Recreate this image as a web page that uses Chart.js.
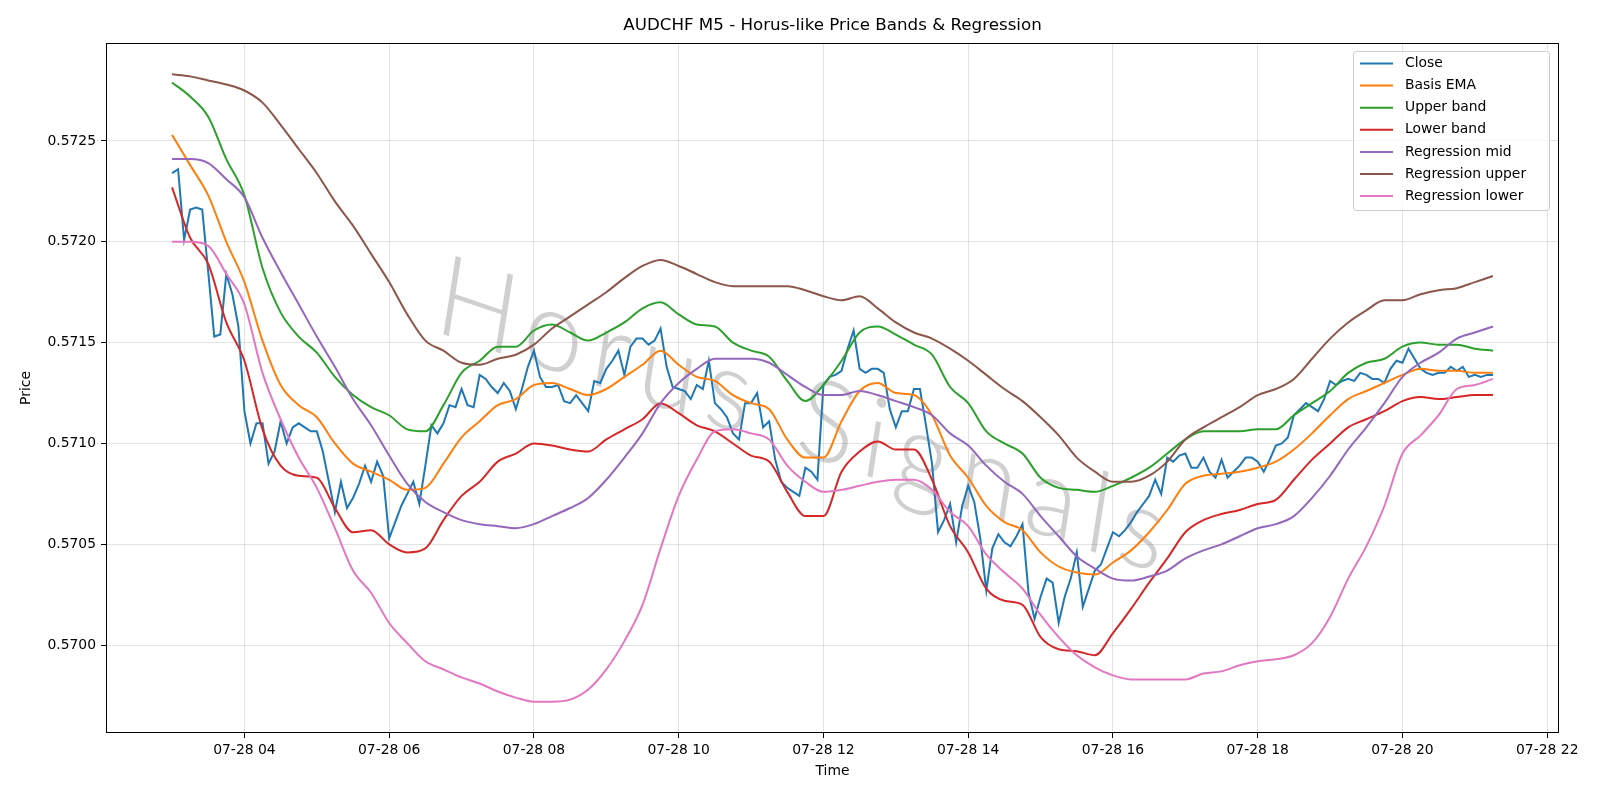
<!DOCTYPE html>
<html>
<head>
<meta charset="utf-8">
<script src="https://cdn.jsdelivr.net/npm/chart.js@4.4.1/dist/chart.umd.min.js"></script>
<style>
  html, body { margin: 0; padding: 0; background: #fff; }
  #wrap { width: 1600px; height: 800px; }
</style>
</head>
<body>
<div id="wrap"><canvas id="priceChart" width="1600" height="800"></canvas></div>
<script>
// 5-minute closes, 07-28 03:00 .. 21:15
const closeVals = [
  0.57234, 0.57236, 0.57201, 0.57216, 0.57217, 0.57216, 0.57185, 0.57153, 0.57154, 0.57184,
  0.57174, 0.57158, 0.57116, 0.57100, 0.57110, 0.57110, 0.57090, 0.57096, 0.57111, 0.57100,
  0.57108, 0.57110, 0.57108, 0.57106, 0.57106, 0.57096, 0.57081, 0.57066, 0.57081, 0.57068,
  0.57073, 0.57080, 0.57089, 0.57081, 0.57091, 0.57084, 0.57053, 0.57061, 0.57069, 0.57075,
  0.57081, 0.57070, 0.57089, 0.57109, 0.57105, 0.57110, 0.57119, 0.57118, 0.57127, 0.57119,
  0.57118, 0.57134, 0.57132, 0.57128, 0.57125, 0.57130, 0.57126, 0.57117, 0.57127, 0.57138,
  0.57146, 0.57133, 0.57128, 0.57128, 0.57129, 0.57121, 0.57120, 0.57124, 0.57120, 0.57116,
  0.57131, 0.57130, 0.57137, 0.57141, 0.57146, 0.57134, 0.57148, 0.57152, 0.57152, 0.57149,
  0.57151, 0.57157, 0.57138, 0.57128, 0.57127, 0.57126, 0.57122, 0.57129, 0.57127, 0.57141,
  0.57120, 0.57117, 0.57113, 0.57105, 0.57102, 0.57120, 0.57120, 0.57125, 0.57108, 0.57111,
  0.57092, 0.57081, 0.57078, 0.57076, 0.57074, 0.57088, 0.57086, 0.57082, 0.57129, 0.57133,
  0.57134, 0.57136, 0.57147, 0.57156, 0.57137, 0.57135, 0.57137, 0.57137, 0.57135, 0.57117,
  0.57108, 0.57116, 0.57116, 0.57127, 0.57127, 0.57109, 0.57090, 0.57056, 0.57062, 0.57070,
  0.57051, 0.57069, 0.57079, 0.57071, 0.57053, 0.57027, 0.57048, 0.57055, 0.57051, 0.57049,
  0.57054, 0.57060, 0.57026, 0.57013, 0.57024, 0.57033, 0.57031, 0.57011, 0.57024, 0.57033,
  0.57046, 0.57019, 0.57028, 0.57037, 0.57040, 0.57048, 0.57056, 0.57054, 0.57057, 0.57061,
  0.57066, 0.57070, 0.57074, 0.57082, 0.57075, 0.57093, 0.57091, 0.57094, 0.57095, 0.57088,
  0.57088, 0.57093, 0.57086, 0.57083, 0.57092, 0.57083, 0.57086, 0.57089, 0.57093, 0.57093,
  0.57091, 0.57086, 0.57092, 0.57099, 0.57100, 0.57103, 0.57114, 0.57117, 0.57120, 0.57118,
  0.57116, 0.57122, 0.57131, 0.57129, 0.57131, 0.57132, 0.57131, 0.57135, 0.57134, 0.57132,
  0.57132, 0.57130, 0.57137, 0.57141, 0.57140, 0.57147, 0.57142, 0.57137, 0.57135, 0.57134,
  0.57135, 0.57135, 0.57138, 0.57136, 0.57138, 0.57133, 0.57134, 0.57133, 0.57134, 0.57134
];

// band / regression lines, read every 15 minutes, 03:00 .. 21:15
const basisEma = [
  0.57253, 0.57238, 0.57223, 0.57200, 0.57180, 0.57151, 0.57129, 0.57119, 0.57113, 0.57100,
  0.57090, 0.57086, 0.57082, 0.57077, 0.57078, 0.57090, 0.57103, 0.57111, 0.57119, 0.57122,
  0.57129, 0.57130, 0.57127, 0.57124, 0.57127, 0.57133, 0.57139, 0.57146, 0.57139, 0.57133,
  0.57131, 0.57124, 0.57120, 0.57117, 0.57102, 0.57093, 0.57093, 0.57111, 0.57126, 0.57130,
  0.57125, 0.57124, 0.57114, 0.57094, 0.57083, 0.57069, 0.57061, 0.57057, 0.57046, 0.57039,
  0.57036, 0.57035, 0.57041, 0.57047, 0.57056, 0.57067, 0.57080, 0.57084, 0.57085, 0.57086,
  0.57088, 0.57091, 0.57097, 0.57105, 0.57114, 0.57122, 0.57126, 0.57130, 0.57134, 0.57137,
  0.57136, 0.57136, 0.57135, 0.57135
];
const upperBand = [
  0.57279, 0.57272, 0.57262, 0.57241, 0.57223, 0.57187, 0.57165, 0.57153, 0.57145, 0.57133,
  0.57124, 0.57118, 0.57114, 0.57107, 0.57106, 0.57119, 0.57135, 0.57141, 0.57148, 0.57148,
  0.57156, 0.57159, 0.57155, 0.57151, 0.57155, 0.57160, 0.57167, 0.57170, 0.57164, 0.57159,
  0.57158, 0.57150, 0.57146, 0.57143, 0.57131, 0.57121, 0.57129, 0.57141, 0.57155, 0.57158,
  0.57154, 0.57149, 0.57144, 0.57128, 0.57120, 0.57106, 0.57100, 0.57095, 0.57083, 0.57078,
  0.57077, 0.57076, 0.57079, 0.57083, 0.57088, 0.57095, 0.57102, 0.57106, 0.57106, 0.57106,
  0.57107, 0.57107, 0.57114, 0.57120, 0.57126, 0.57135, 0.57140, 0.57142, 0.57148, 0.57150,
  0.57149, 0.57149, 0.57147, 0.57146
];
const lowerBand = [
  0.57227, 0.57202, 0.57189, 0.57160, 0.57141, 0.57107, 0.57089, 0.57084, 0.57083, 0.57068,
  0.57056, 0.57057, 0.57050, 0.57046, 0.57048, 0.57062, 0.57074, 0.57081, 0.57091, 0.57095,
  0.57100, 0.57099, 0.57097, 0.57096, 0.57102, 0.57107, 0.57112, 0.57120, 0.57115, 0.57109,
  0.57106, 0.57100, 0.57094, 0.57091, 0.57076, 0.57064, 0.57064, 0.57086, 0.57096, 0.57101,
  0.57097, 0.57097, 0.57082, 0.57059, 0.57046, 0.57028, 0.57022, 0.57020, 0.57004, 0.56998,
  0.56997, 0.56995, 0.57006, 0.57018, 0.57031, 0.57043, 0.57056, 0.57062, 0.57065, 0.57067,
  0.57070, 0.57072, 0.57082, 0.57092, 0.57100, 0.57108, 0.57112, 0.57116, 0.57121, 0.57123,
  0.57122, 0.57123, 0.57124, 0.57124
];
const regMid = [
  0.57241, 0.57241, 0.57239, 0.57231, 0.57222, 0.57202, 0.57185, 0.57169, 0.57153, 0.57138,
  0.57122, 0.57109, 0.57094, 0.57080, 0.57071, 0.57066, 0.57062, 0.57060, 0.57059, 0.57058,
  0.57060, 0.57064, 0.57068, 0.57073, 0.57082, 0.57093, 0.57105, 0.57120, 0.57130, 0.57137,
  0.57142, 0.57142, 0.57142, 0.57140, 0.57134, 0.57128, 0.57124, 0.57124, 0.57126, 0.57124,
  0.57121, 0.57118, 0.57114, 0.57105, 0.57099, 0.57089, 0.57081, 0.57075, 0.57064, 0.57054,
  0.57044, 0.57038, 0.57033, 0.57032, 0.57034, 0.57037, 0.57043, 0.57047, 0.57050, 0.57054,
  0.57058, 0.57060, 0.57064, 0.57073, 0.57084, 0.57097, 0.57108, 0.57120, 0.57133, 0.57140,
  0.57145, 0.57152, 0.57155, 0.57158
];
const regUpper = [
  0.57283, 0.57282, 0.57280, 0.57278, 0.57275, 0.57269, 0.57258, 0.57246, 0.57234, 0.57220,
  0.57208, 0.57194, 0.57180, 0.57164, 0.57151, 0.57146, 0.57140, 0.57139, 0.57142, 0.57144,
  0.57149, 0.57157, 0.57163, 0.57169, 0.57175, 0.57182, 0.57188, 0.57191, 0.57188, 0.57184,
  0.57180, 0.57178, 0.57178, 0.57178, 0.57178, 0.57176, 0.57173, 0.57171, 0.57173, 0.57167,
  0.57160, 0.57155, 0.57152, 0.57147, 0.57141, 0.57134, 0.57127, 0.57121, 0.57113, 0.57104,
  0.57093, 0.57086, 0.57081, 0.57081, 0.57084, 0.57091, 0.57102, 0.57108, 0.57113, 0.57118,
  0.57124, 0.57127, 0.57132, 0.57142, 0.57152, 0.57160, 0.57166, 0.57171, 0.57171, 0.57174,
  0.57176, 0.57177, 0.57180, 0.57183
];
const regLower = [
  0.57200, 0.57200, 0.57198, 0.57184, 0.57169, 0.57135, 0.57112, 0.57093, 0.57078, 0.57058,
  0.57037, 0.57026, 0.57011, 0.57001, 0.56992, 0.56988, 0.56984, 0.56981, 0.56977, 0.56974,
  0.56972, 0.56972, 0.56973, 0.56978, 0.56988, 0.57002, 0.57020, 0.57048, 0.57074, 0.57092,
  0.57106, 0.57107, 0.57105, 0.57102, 0.57089, 0.57081, 0.57076, 0.57077, 0.57079, 0.57081,
  0.57082, 0.57082, 0.57077, 0.57066, 0.57059, 0.57045, 0.57036, 0.57028, 0.57015, 0.57004,
  0.56995, 0.56989, 0.56985, 0.56983, 0.56983, 0.56983, 0.56983, 0.56986, 0.56987, 0.56990,
  0.56992, 0.56993, 0.56995, 0.57001, 0.57014, 0.57033, 0.57049, 0.57069, 0.57095, 0.57104,
  0.57114, 0.57127, 0.57129, 0.57132
];

const seriesNames = ["Close", "Basis EMA", "Upper band", "Lower band",
  "Regression mid", "Regression upper", "Regression lower"];
const seriesColors = ["#1f77b4", "#ff7f0e", "#2ca02c", "#d62728",
  "#9467bd", "#8c564b", "#e377c2"];
const hourTicks = [4, 6, 8, 10, 12, 14, 16, 18, 20, 22];
const priceTicks = [0.5700, 0.5705, 0.5710, 0.5715, 0.5720, 0.5725];
const dayLabel = "07-28";
const chartTitle = "AUDCHF M5 - Horus-like Price Bands & Regression";
const watermarkText = "Horus Signals";

// time stamps in hours of the day
const startHour = 3;
const closeHours = closeVals.map((_, i) => startHour + i * 5 / 60);
const bandHours = basisEma.map((_, i) => startHour + i * 15 / 60);

function points(hours, vals) {
  return vals.map((v, i) => ({ x: hours[i], y: v }));
}

const lineSets = [
  [closeHours, closeVals], [bandHours, basisEma], [bandHours, upperBand], [bandHours, lowerBand],
  [bandHours, regMid], [bandHours, regUpper], [bandHours, regLower]
];

// matplotlib-like 5% margins
const xSpan = closeHours[closeHours.length - 1] - closeHours[0];
const xMin = closeHours[0] - xSpan * 0.05;
const xMax = closeHours[closeHours.length - 1] + xSpan * 0.05;
const allVals = [].concat(closeVals, basisEma, upperBand, lowerBand, regMid, regUpper, regLower);
const vLo = Math.min(...allVals), vHi = Math.max(...allVals);
const yMin = vLo - (vHi - vLo) * 0.05;
const yMax = vHi + (vHi - vLo) * 0.05;

const FONT = "'DejaVu Sans', 'Liberation Sans', sans-serif";

const overlay = {
  id: "overlay",
  beforeDatasetsDraw(chart) {
    const ctx = chart.ctx;
    const a = chart.chartArea;
    ctx.save();
    ctx.beginPath();
    ctx.rect(a.left, a.top, a.right - a.left, a.bottom - a.top);
    ctx.clip();
    ctx.translate(806, 418);
    ctx.rotate(18.5 * Math.PI / 180);
    ctx.transform(1, 0, 0.17, 1, 0, 0);
    const wmFont = "'Lato', 'Open Sans', 'DejaVu Sans', sans-serif";
    ctx.letterSpacing = "10px";
    ctx.font = "300 100px " + wmFont;
    const w = ctx.measureText(watermarkText).width;
    const size = 100 * 790 / w;
    ctx.font = "300 " + size + "px " + wmFont;
    ctx.fillStyle = "rgba(110,110,110,0.32)";
    ctx.textAlign = "center";
    ctx.textBaseline = "middle";
    ctx.fillText(watermarkText, 0, 0);
    ctx.restore();
  },
  afterDraw(chart) {
    const ctx = chart.ctx;
    const a = chart.chartArea;
    ctx.save();
    // axes frame
    ctx.strokeStyle = "#000";
    ctx.lineWidth = 1;
    ctx.strokeRect(a.left + 0.5, a.top + 0.5, a.right - a.left - 1, a.bottom - a.top - 1);

    ctx.fillStyle = "#000";
    ctx.textAlign = "center";
    ctx.textBaseline = "middle";
    ctx.font = "16.7px " + FONT;
    ctx.fillText(chartTitle, (a.left + a.right) / 2, 26);
    ctx.font = "13.9px " + FONT;
    ctx.fillText("Time", (a.left + a.right) / 2, 771);
    ctx.save();
    ctx.translate(26, (a.top + a.bottom) / 2);
    ctx.rotate(-Math.PI / 2);
    ctx.fillText("Price", 0, 0);
    ctx.restore();

    // legend
    const lx = 1353, ly = 51, lw = 196, lh = 159;
    ctx.beginPath();
    ctx.roundRect(lx + 0.5, ly + 0.5, lw, lh, 3);
    ctx.fillStyle = "rgba(255,255,255,0.8)";
    ctx.fill();
    ctx.strokeStyle = "#cccccc";
    ctx.stroke();
    ctx.textAlign = "left";
    ctx.font = "13.9px " + FONT;
    seriesNames.forEach((name, i) => {
      const y = 63.5 + i * 22.1;
      ctx.strokeStyle = seriesColors[i];
      ctx.lineWidth = 2;
      ctx.beginPath();
      ctx.moveTo(1360, y);
      ctx.lineTo(1393, y);
      ctx.stroke();
      ctx.fillStyle = "#000";
      ctx.fillText(name, 1405, y);
    });
    ctx.restore();
  }
};

new Chart(document.getElementById("priceChart"), {
  type: "line",
  data: {
    datasets: seriesNames.map((name, i) => ({
      label: name,
      data: points(lineSets[i][0], lineSets[i][1]),
      borderColor: seriesColors[i],
      backgroundColor: seriesColors[i],
      borderWidth: 2,
      pointRadius: 0,
      fill: false,
      cubicInterpolationMode: i === 0 ? "default" : "monotone",
      tension: 0,
      order: seriesNames.length - i
    }))
  },
  options: {
    responsive: false,
    animation: false,
    devicePixelRatio: 1,
    layout: { padding: { left: 0, right: 41, top: 43, bottom: 0 } },
    plugins: {
      legend: { display: false },
      title: { display: false },
      tooltip: { enabled: false }
    },
    scales: {
      x: {
        type: "linear",
        min: xMin,
        max: xMax,
        afterFit: s => { s.height = 67; },
        afterBuildTicks: s => { s.ticks = hourTicks.map(v => ({ value: v })); },
        ticks: {
          autoSkip: false,
          maxRotation: 0,
          padding: 4,
          color: "#000",
          font: { family: FONT, size: 13.9 },
          callback: v => dayLabel + " " + String(v).padStart(2, "0")
        },
        grid: { color: "rgba(176,176,176,0.35)", lineWidth: 1, tickColor: "#000", tickLength: 5 },
        border: { display: false }
      },
      y: {
        type: "linear",
        min: yMin,
        max: yMax,
        afterFit: s => { s.width = 106; },
        afterBuildTicks: s => { s.ticks = priceTicks.map(v => ({ value: v })); },
        ticks: {
          autoSkip: false,
          padding: 5,
          color: "#000",
          font: { family: FONT, size: 13.9 },
          callback: v => v.toFixed(4)
        },
        grid: { color: "rgba(176,176,176,0.35)", lineWidth: 1, tickColor: "#000", tickLength: 5 },
        border: { display: false }
      }
    }
  },
  plugins: [overlay]
});
</script>
</body>
</html>
